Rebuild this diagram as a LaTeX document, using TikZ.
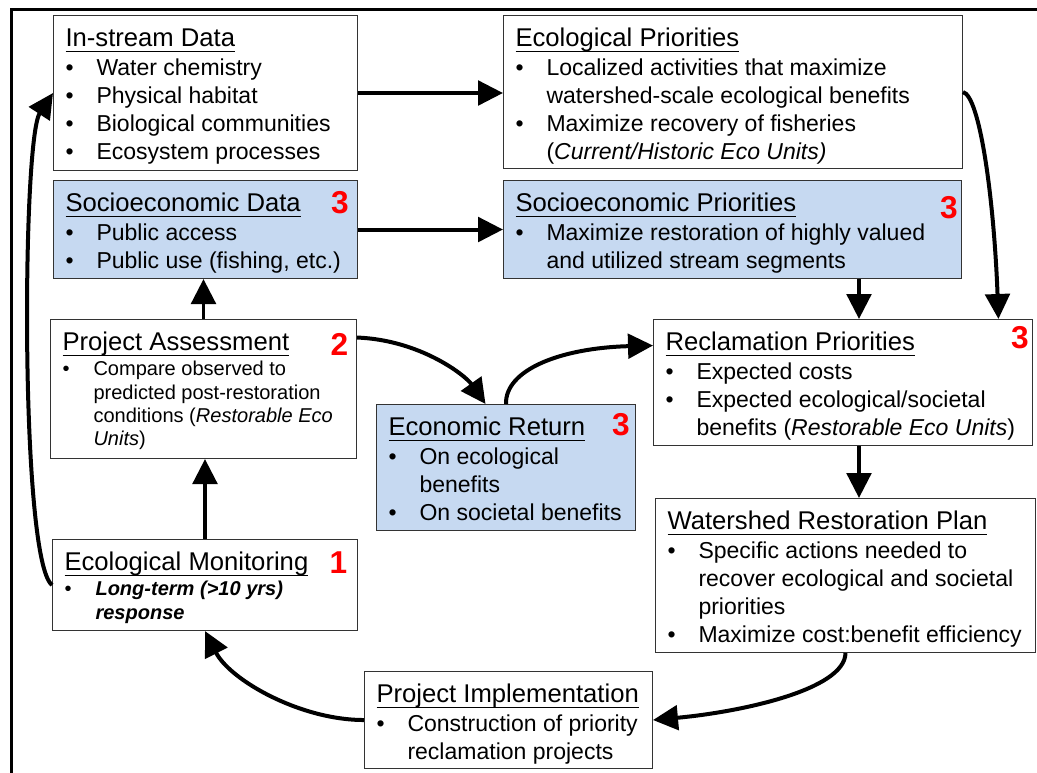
\documentclass[tikz,border=0pt]{standalone}
\usepackage{fontspec}
\setmainfont{Liberation Sans}
\usetikzlibrary{arrows.meta, calc, positioning}
\definecolor{socblue}{RGB}{198,217,241}
\newcommand{\titlef}{\fontsize{14.6}{17.5}\selectfont}
\newcommand{\bodyf}{\fontsize{13.1}{15.93}\selectfont}
\newcommand{\smallf}{\fontsize{11.4}{13.37}\selectfont}
\newcommand{\ttl}[1]{\rule{0pt}{0.62cm}{\titlef\setbox0\hbox{#1}\rlap{\rule[-0.115cm]{\wd0}{0.035cm}}\box0}}
\newcommand{\bul}{\makebox[0.62cm][l]{\textbullet}}
\newcommand{\cont}{\hspace*{0.62cm}}
\newcommand{\boxtext}[3]{\parbox[c][#2][t]{#1}{#3}}

\begin{document}
\begin{tikzpicture}[x=0.02cm, y=-0.02cm,
  stepbox/.style={draw=black!80, line width=0.6pt, fill=white, anchor=north west, inner xsep=0.24cm, inner ysep=0pt},
  socbox/.style={stepbox, fill=socblue},
  flow/.style={line width=0.08cm, -{Triangle[length=0.5cm, width=0.49cm]}},
  rank/.style={text=red, inner sep=0pt, font=\fontsize{18}{18}\selectfont\bfseries}]
\useasboundingbox (0,0) rectangle (1037,773);

%Khung
\draw[line width=0.06cm] (11.5,773) -- (11.5,10) -- (1037,10);

%Hang tren
\node[stepbox] (instream) at (53,15) {\boxtext{5.60cm}{3.10cm}{\bodyf
  \ttl{In-stream Data}\\[0.02cm]
  \bul Water chemistry\\
  \bul Physical habitat\\
  \bul Biological communities\\
  \bul Ecosystem processes}};
\node[stepbox] (ecopri) at (503,15) {\boxtext{8.70cm}{3.06cm}{\bodyf
  \ttl{Ecological Priorities}\\[0.02cm]
  \bul Localized activities that maximize\\
  \cont watershed-scale ecological benefits\\
  \bul Maximize recovery of fisheries\\
  \cont (\textit{Current/Historic Eco Units)}}};

%Hang thu hai
\node[socbox] (socdata) at (53,180) {\boxtext{5.60cm}{1.96cm}{\bodyf
  \ttl{Socioeconomic Data}\\[0.02cm]
  \bul Public access\\
  \bul Public use (fishing, etc.)}};
\node[socbox] (socpri) at (503,180) {\boxtext{8.68cm}{1.96cm}{\bodyf
  \ttl{Socioeconomic Priorities}\\[0.02cm]
  \bul Maximize restoration of highly valued\\
  \cont and utilized stream segments}};

%Hang giua
\node[stepbox] (assess) at (50,319) {\boxtext{5.64cm}{2.78cm}{\smallf
  \ttl{Project Assessment}\\[0.03cm]
  \bul Compare observed to\\
  \cont predicted post-restoration\\
  \cont conditions (\textit{Restorable Eco}\\
  \cont \textit{Units})}};
\node[socbox] (econret) at (376,404) {\boxtext{4.70cm}{2.52cm}{\bodyf
  \ttl{Economic Return}\\[0.02cm]
  \bul On ecological\\
  \cont benefits\\
  \bul On societal benefits}};
\node[stepbox] (reclam) at (653,319) {\boxtext{7.10cm}{2.52cm}{\bodyf
  \ttl{Reclamation Priorities}\\[0.02cm]
  \bul Expected costs\\
  \bul Expected ecological/societal\\
  \cont benefits (\textit{Restorable Eco Units})}};

%Hang duoi
\node[stepbox] (plan) at (655,498) {\boxtext{7.12cm}{3.08cm}{\bodyf
  \ttl{Watershed Restoration Plan}\\[0.02cm]
  \bul Specific actions needed to\\
  \cont recover ecological and societal\\
  \cont priorities\\
  \bul Maximize cost:benefit efficiency}};
\node[stepbox] (monitor) at (52,539) {\boxtext{5.62cm}{1.82cm}{\smallf
  \ttl{Ecological Monitoring}\\[0.03cm]
  \bul \textbf{\textit{Long-term (>10 yrs)}}\\
  \cont \textbf{\textit{response}}}};
\node[stepbox] (implement) at (364,671) {\boxtext{5.28cm}{1.94cm}{\bodyf
  \ttl{Project Implementation}\\[0.02cm]
  \bul Construction of priority\\
  \cont reclamation projects}};

%So thu tu
\node[rank] (sd-rank) at (340,202.5) {3};
\node[rank] (sp-rank) at (949,208) {3};
\node[rank] (pa-rank) at (339.5,344) {2};
\node[rank] (er-rank) at (621,424.5) {3};
\node[rank] (rp-rank) at (1020,337.5) {3};
\node[rank] (em-rank) at (338.5,563) {1};

%Mui ten thang
\draw[flow] (instream.east) -- (instream.east -| ecopri.west);
\draw[flow] (socdata.east) -- (socdata.east -| socpri.west);
\draw[flow] (assess.north) -- (assess.north |- socdata.south);
\draw[flow] (monitor.north) -- (monitor.north |- assess.south);
\draw[flow] ([xshift=0.32cm]reclam.north |- socpri.south) -- ([xshift=0.32cm]reclam.north);
\draw[flow] ([xshift=0.32cm]reclam.south) -- ([xshift=0.32cm]reclam.south |- plan.north);

%Mui ten cong
\draw[flow] (ecopri.east) .. controls (980,96) and (994,200) .. ([xshift=3.11cm]reclam.north);
\draw[flow] ([yshift=1.03cm]assess.east) .. controls (420,340) and (465,375) .. ([xshift=-0.41cm]econret.north);
\draw[flow] (econret.north) .. controls (505,370) and (560,348) .. ([yshift=0.74cm]reclam.west);
\draw[flow] (plan.south) .. controls (845,690) and (740,712) .. (implement.east);
\draw[flow] (implement.west) .. controls (300,720) and (230,680) .. (monitor.south);
\draw[flow] (monitor.west) .. controls (20,560) and (22,140) .. (instream.west);
\end{tikzpicture}
\end{document}
